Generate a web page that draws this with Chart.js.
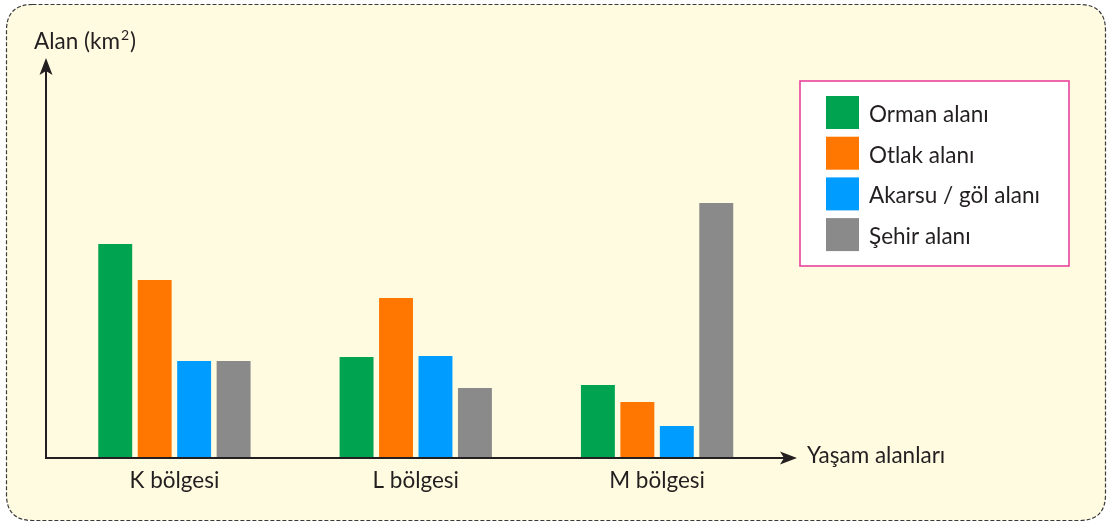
<!DOCTYPE html>
<html>
<head>
<meta charset="utf-8">
<script src="https://cdn.jsdelivr.net/npm/chart.js@4/dist/chart.umd.min.js"></script>
<style>
  html, body { margin: 0; padding: 0; background: #ffffff; }
  #wrap { width: 1112px; height: 526px; position: relative; }
</style>
</head>
<body>
<div id="wrap"><canvas id="c"></canvas></div>
<script>
// ---- data ----
const categories = ["K bölgesi", "L bölgesi", "M bölgesi"];
const seriesNames = ["Orman alanı", "Otlak alanı", "Akarsu / göl alanı", "Şehir alanı"];
const ormanValues  = [21.4, 10.1, 7.3];
const otlakValues  = [17.8, 16.0, 5.6];
const akarsuValues = [9.7, 10.2, 3.2];
const sehirValues  = [9.7, 7.0, 25.5];
const yAxisTitle = "Alan (km";
const xAxisTitle = "Yaşam alanları";

const colors = ["#00a34f", "#ff7700", "#009cff", "#8a8a8a"];
const FONT = "Lato, 'Open Sans', sans-serif";
const TEXT = "#231f20";

const decor = {
  id: "decor",
  beforeDraw(chart) {
    const ctx = chart.ctx;
    ctx.save();
    ctx.fillStyle = "#ffffff";
    ctx.fillRect(0, 0, chart.width, chart.height);
    // rounded dashed panel
    const x = 6.5, y = 4.5, w = 1099, h = 516, r = 26;
    ctx.beginPath();
    ctx.moveTo(x + r, y);
    ctx.lineTo(x + w - r, y);
    ctx.quadraticCurveTo(x + w, y, x + w, y + r);
    ctx.lineTo(x + w, y + h - r);
    ctx.quadraticCurveTo(x + w, y + h, x + w - r, y + h);
    ctx.lineTo(x + r, y + h);
    ctx.quadraticCurveTo(x, y + h, x, y + h - r);
    ctx.lineTo(x, y + r);
    ctx.quadraticCurveTo(x, y, x + r, y);
    ctx.closePath();
    ctx.fillStyle = "#fffbe0";
    ctx.fill();
    ctx.setLineDash([4, 2]);
    ctx.lineWidth = 1.2;
    ctx.strokeStyle = "#3a3a3a";
    ctx.stroke();
    ctx.restore();
  },
  afterDatasetsDraw(chart) {
    const ctx = chart.ctx;
    const xs = chart.scales.x, ys = chart.scales.y;
    const base = ys.getPixelForValue(0);
    ctx.save();
    ctx.strokeStyle = TEXT;
    ctx.fillStyle = TEXT;
    ctx.lineWidth = 2;
    // x axis
    ctx.beginPath();
    ctx.moveTo(45, base);
    ctx.lineTo(786, base);
    ctx.stroke();
    ctx.beginPath();
    ctx.moveTo(797, base);
    ctx.lineTo(780, base - 6.5);
    ctx.lineTo(784, base);
    ctx.lineTo(780, base + 6.5);
    ctx.closePath();
    ctx.fill();
    // y axis
    ctx.beginPath();
    ctx.moveTo(46, base + 1);
    ctx.lineTo(46, 70);
    ctx.stroke();
    ctx.beginPath();
    ctx.moveTo(46, 58);
    ctx.lineTo(39.5, 75);
    ctx.lineTo(46, 71);
    ctx.lineTo(52.5, 75);
    ctx.closePath();
    ctx.fill();

    // axis titles
    ctx.font = "22.5px " + FONT;
    ctx.textBaseline = "alphabetic";
    ctx.textAlign = "left";
    ctx.fillText(yAxisTitle, 34, 49);
    let wy = ctx.measureText(yAxisTitle).width;
    ctx.font = "14px " + FONT;
    ctx.fillText("2", 34 + wy + 1, 40);
    let w2 = ctx.measureText("2").width;
    ctx.font = "22.5px " + FONT;
    ctx.fillText(")", 34 + wy + w2 + 2, 49);
    ctx.textBaseline = "middle";
    ctx.fillText(xAxisTitle, 807, base - 2);

    // category labels
    ctx.textAlign = "center";
    ctx.textBaseline = "middle";
    xs.ticks.forEach((t, i) => {
      ctx.fillText(chart.data.labels[i], xs.getPixelForTick(i), 481);
    });

    // legend
    const lx = 800, ly = 81, lw = 269, lh = 185;
    ctx.fillStyle = "#ffffff";
    ctx.fillRect(lx, ly, lw, lh);
    ctx.strokeStyle = "#e8419c";
    ctx.lineWidth = 1.6;
    ctx.strokeRect(lx, ly, lw, lh);
    ctx.textAlign = "left";
    ctx.textBaseline = "alphabetic";
    chart.data.datasets.forEach((ds, i) => {
      const ty = 96 + i * 40.7;
      ctx.fillStyle = ds.backgroundColor;
      ctx.fillRect(826, ty, 33, 33);
      ctx.fillStyle = TEXT;
      ctx.fillText(ds.label, 869, ty + 26);
    });
    ctx.restore();
  }
};

new Chart(document.getElementById("c"), {
  type: "bar",
  data: {
    labels: categories,
    datasets: [
      { label: seriesNames[0], data: ormanValues,  backgroundColor: colors[0] },
      { label: seriesNames[1], data: otlakValues,  backgroundColor: colors[1] },
      { label: seriesNames[2], data: akarsuValues, backgroundColor: colors[2] },
      { label: seriesNames[3], data: sehirValues,  backgroundColor: colors[3] }
    ]
  },
  options: {
    responsive: true,
    maintainAspectRatio: false,
    animation: false,
    devicePixelRatio: 1,
    layout: { padding: { left: 53.75, right: 334.25, top: 78, bottom: 68 } },
    datasets: { bar: { categoryPercentage: 0.654, barPercentage: 0.86 } },
    plugins: { legend: { display: false }, tooltip: { enabled: false } },
    scales: {
      x: { display: false },
      y: { display: false, min: 0, max: 38 }
    }
  },
  plugins: [decor]
});
</script>
</body>
</html>
